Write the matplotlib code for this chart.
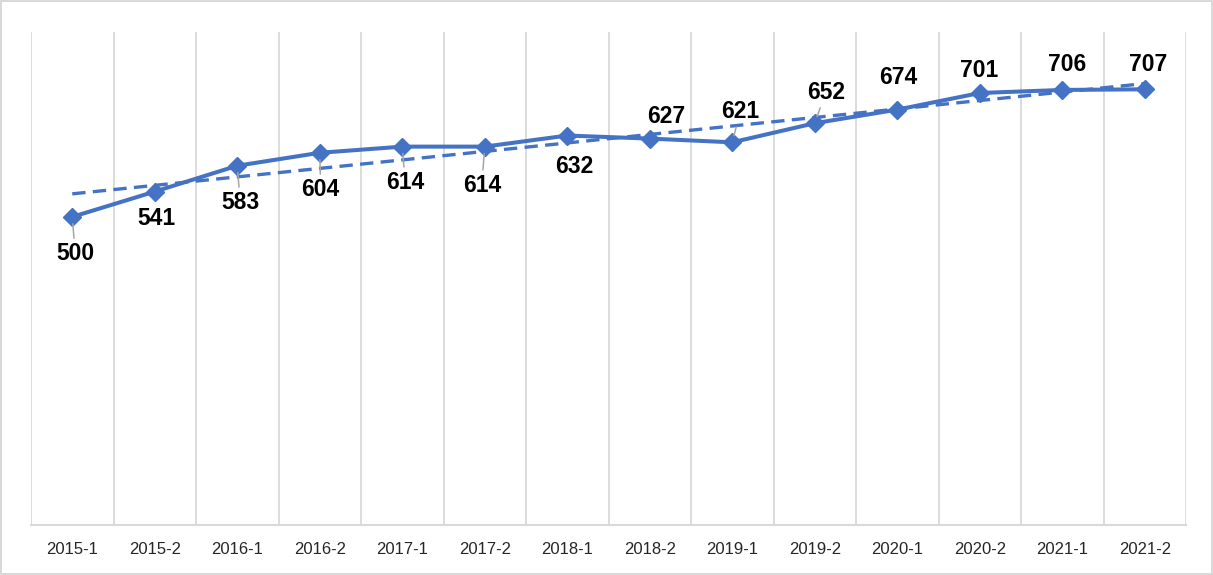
import matplotlib
matplotlib.use("Agg")
import matplotlib.pyplot as plt
import numpy as np

# Half-year periods and their values
periods = ["2015-1", "2015-2", "2016-1", "2016-2", "2017-1", "2017-2", "2018-1",
           "2018-2", "2019-1", "2019-2", "2020-1", "2020-2", "2021-1", "2021-2"]
values = [500, 541, 583, 604, 614, 614, 632, 627, 621, 652, 674, 701, 706, 707]

# Label placement (pixel offsets from each point) and whether a leader line is drawn
label_offsets = [(3, -37), (2, -27), (3, -37), (1, -37), (3, -36), (-3, -39), (7, -31),
                 (16, 22), (8, 31), (11, 31), (1, 32), (-1, 23), (5, 25), (3, 25)]
leaders = [True, False, True, True, True, True, False,
           False, True, True, False, False, False, False]

plt.rcParams["font.family"] = ["Liberation Sans", "DejaVu Sans"]

BLUE = "#4472C4"
GRID = "#D9D9D9"

fig = plt.figure(figsize=(12.13, 5.75), dpi=100)
fig.patch.set_facecolor("white")
fig.patch.set_edgecolor(GRID)
fig.patch.set_linewidth(1.5)

ax = fig.add_axes([31 / 1213, 1 - 525 / 575, (1186 - 31) / 1213, (525 - 32) / 575])

x = np.arange(len(values))
ax.plot(x, values, color=BLUE, lw=2.9, marker="D", markersize=9.5,
        markerfacecolor=BLUE, markeredgecolor=BLUE, zorder=4)

# Linear trendline fitted to the series
coef = np.polyfit(x, values, 1)
trend = np.polyval(coef, x)
ax.plot(x, trend, color=BLUE, lw=2.4, linestyle=(0, (4, 2.2)), zorder=3)

for xi, v, (dx, dy), lead in zip(x, values, label_offsets, leaders):
    kw = {}
    if lead:
        kw["arrowprops"] = dict(arrowstyle="-", color="#A6A6A6", lw=1.1,
                                shrinkA=1, shrinkB=5)
    ax.annotate(str(v), xy=(xi, v), xytext=(dx, dy), textcoords="offset pixels",
                ha="center", va="center", fontsize=16.5, fontweight="bold",
                color="black", zorder=6, **kw)

ax.set_xlim(-0.5, len(values) - 0.5)
ax.set_ylim(0, 800)

# Vertical gridlines on category boundaries
for b in np.arange(-0.5, len(values) + 0.5, 1.0):
    ax.axvline(b, color=GRID, lw=1.3, zorder=0)

ax.set_xticks(x)
ax.set_xticklabels(periods, fontsize=12, color="#262626")
ax.tick_params(axis="x", length=0, pad=12)
ax.set_yticks([])
for s in ["top", "left", "right"]:
    ax.spines[s].set_visible(False)
ax.spines["bottom"].set_color(GRID)
ax.spines["bottom"].set_linewidth(1.5)

fig.savefig("out.png", dpi=100, facecolor=fig.get_facecolor(), edgecolor=fig.get_edgecolor())
